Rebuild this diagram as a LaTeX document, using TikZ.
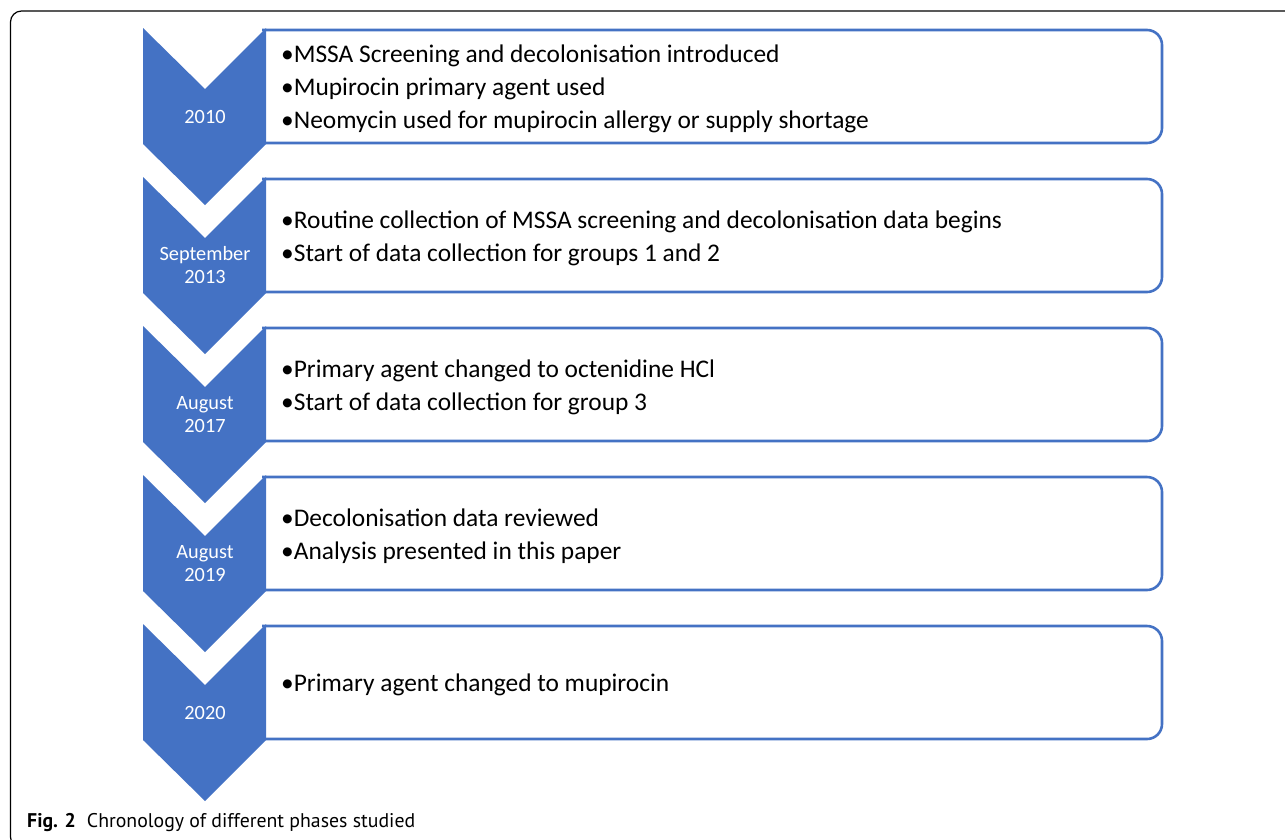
\documentclass[tikz,border=0pt]{standalone}
\usepackage{fontspec}
\setmainfont{Carlito}
\newfontfamily\capfont{PT Sans}
\definecolor{accblue}{HTML}{4472C4}
\tikzset{
  chev/.style={fill=accblue, draw=none},
  phasebox/.style={draw=accblue, line width=2.6pt, rounded corners=15pt},
  yearlbl/.style={text=white, font=\fontsize{20.3}{23}\selectfont, align=center, inner sep=0pt},
  itemtxt/.style={anchor=west, font=\fontsize{25.4}{33}\selectfont, align=left, inner sep=0pt},
}
\begin{document}
\begin{tikzpicture}[x=1pt,y=-1pt]
\useasboundingbox (0,0) rectangle (1285,839);
\begin{scope}
\clip (0,0) rectangle (1285,839);
\draw[line width=1.2pt, rounded corners=11pt] (10.5,11) rectangle (1300,848);
\end{scope}
% phases
\foreach \i/\yr/\txt in {
  0/{2010}/{•MSSA Screening and decolonisation introduced\\•Mupirocin primary agent used\\•Neomycin used for mupirocin allergy or supply shortage},
  1/{September\\2013}/{•Routine collection of MSSA screening and decolonisation data begins\\•Start of data collection for groups 1 and 2},
  2/{August\\2017}/{•Primary agent changed to octenidine HCl\\•Start of data collection for group 3},
  3/{August\\2019}/{•Decolonisation data reviewed\\•Analysis presented in this paper},
  4/{2020}/{•Primary agent changed to mupirocin}}{
  \pgfmathsetmacro{\t}{28+149*\i}
  \draw[phasebox] (262,\t+2) -- (1162,\t+2) -- (1162,\t+115) -- (262,\t+115);
  \fill[chev] (143,\t) -- (205,\t+61) -- (266,\t) -- (266,\t+116) -- (205,\t+177) -- (143,\t+116) -- cycle;
  \node[yearlbl] (year\i) at (205,\t+88.5) {\yr};
  \node[itemtxt] (item\i) at (281,\t+61) {\txt};
}
\node[anchor=base west, inner sep=0pt, font=\capfont\fontsize{19.8}{24}\selectfont] (caption) at (27,827) {\textbf{Fig. 2}\hspace{11pt}Chronology of different phases studied};
\end{tikzpicture}
\end{document}
